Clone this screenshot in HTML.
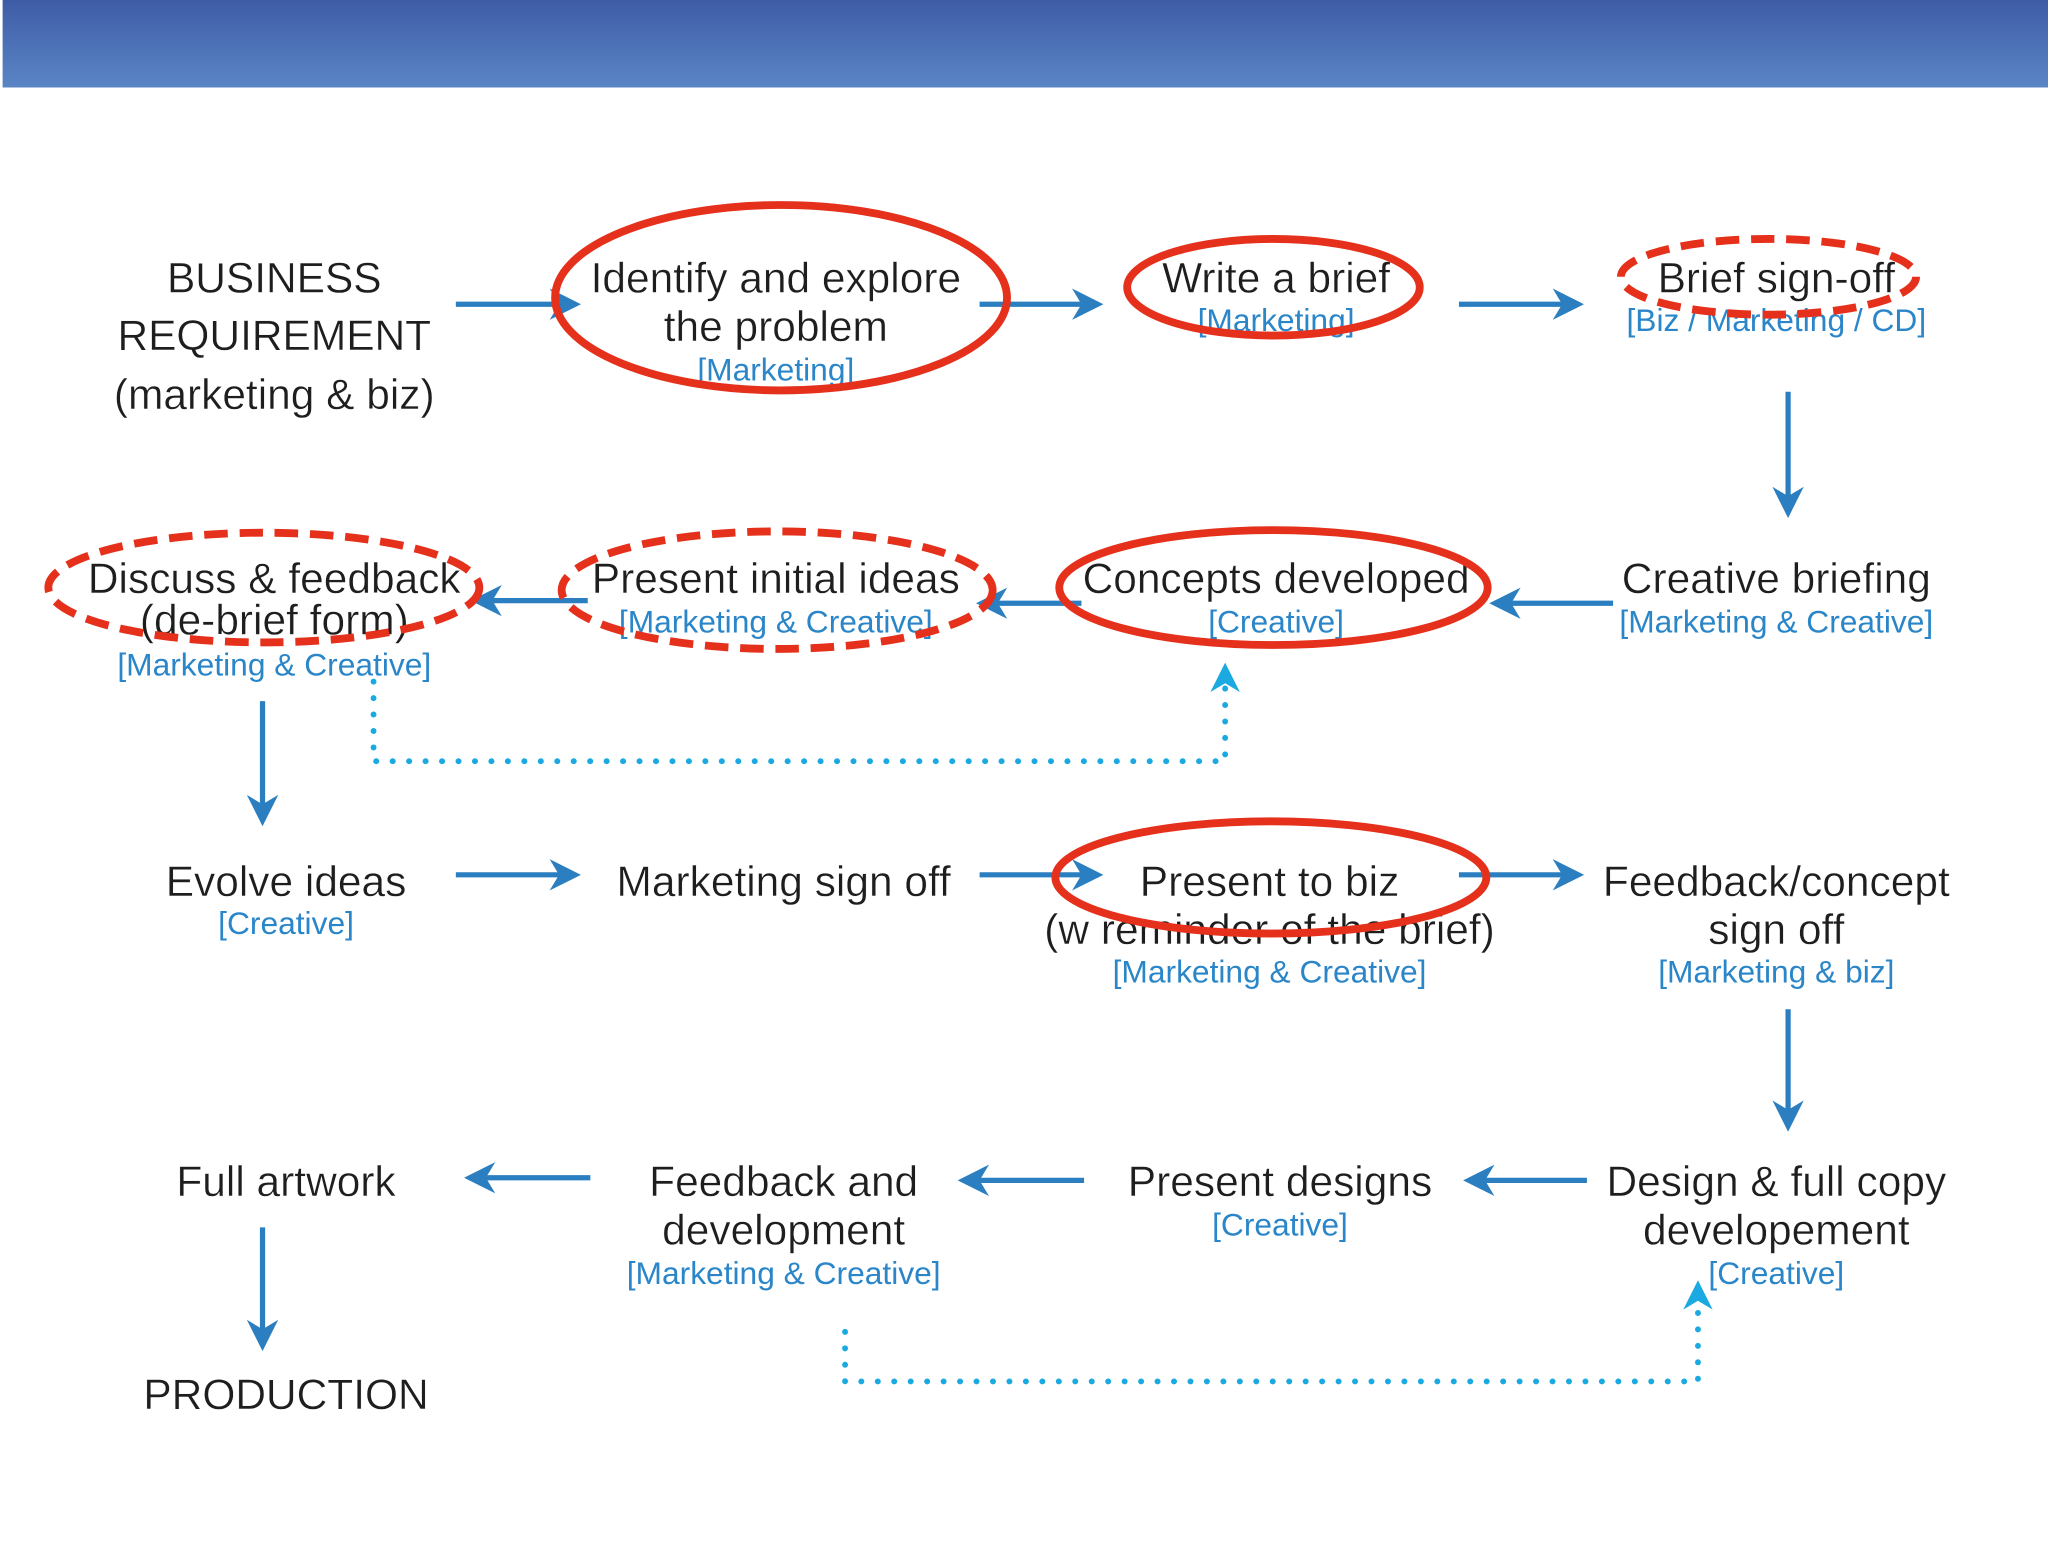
<!DOCTYPE html>
<html><head><meta charset="utf-8"><style>
html,body{margin:0;padding:0;background:#fff;}
svg{display:block;}
text{font-family:"Liberation Sans",sans-serif;dominant-baseline:central;text-anchor:middle;}
.m{font-size:32.5px;fill:#1e1e1e;stroke:#fff;stroke-width:0.3px;}
.b{font-size:24.3px;fill:#2a86c8;}
</style></head><body>
<svg width="2048" height="1559" viewBox="0 0 1568 1194" preserveAspectRatio="none" xmlns="http://www.w3.org/2000/svg">
<defs>
<linearGradient id="g" x1="0" y1="0" x2="0" y2="1"><stop offset="0" stop-color="#3e5ca6"/><stop offset="1" stop-color="#5a85c5"/></linearGradient>
<marker id="a" viewBox="0 0 10 10" refX="8" refY="5" markerWidth="6" markerHeight="6" orient="auto-start-reverse" markerUnits="strokeWidth"><path d="M0,0 L10,5 L0,10 L3,5 z" fill="#2b7fc0"/></marker>
<marker id="c" viewBox="0 0 10 10" refX="8" refY="5" markerWidth="5" markerHeight="5" orient="auto" markerUnits="strokeWidth"><path d="M0,0 L10,5 L0,10 L3,5 z" fill="#1aa9e0"/></marker>
</defs>
<rect x="2" y="0" width="1566" height="67" fill="url(#g)"/>
<g stroke="#2b7fc0" stroke-width="4" marker-end="url(#a)" fill="none">
<line x1="349" y1="233" x2="440" y2="233"/><line x1="750" y1="233" x2="840" y2="233"/><line x1="1117" y1="233" x2="1208" y2="233"/>
<line x1="1369" y1="300" x2="1369" y2="392"/>
<line x1="1235" y1="462" x2="1145" y2="462"/><line x1="828" y1="462" x2="752" y2="462"/><line x1="450" y1="460" x2="365" y2="460"/>
<line x1="201" y1="537" x2="201" y2="628"/>
<line x1="349" y1="670" x2="440" y2="670"/><line x1="750" y1="670" x2="840" y2="670"/><line x1="1117" y1="670" x2="1208" y2="670"/>
<line x1="1369" y1="773" x2="1369" y2="862"/>
<line x1="1215" y1="904" x2="1125" y2="904"/><line x1="830" y1="904" x2="738" y2="904"/><line x1="452" y1="902" x2="360" y2="902"/>
<line x1="201" y1="940" x2="201" y2="1030"/>
</g>
<g stroke="#1aa9e0" stroke-width="4.5" stroke-dasharray="0.1 12.5" stroke-linecap="round" fill="none">
<polyline points="286,522 286,583 938,583 938,512" marker-end="url(#c)"/>
<polyline points="647,1020 647,1058 1300,1058 1300,985" marker-end="url(#c)"/>
</g>
<text class="m" x="210" y="213">BUSINESS</text><text class="m" x="210" y="257">REQUIREMENT</text><text class="m" x="210" y="302">(marketing &amp; biz)</text>
<text class="m" x="594" y="213">Identify and explore</text><text class="m" x="594" y="250">the problem</text><text class="b" x="594" y="283">[Marketing]</text>
<text class="m" x="977" y="213">Write a brief</text><text class="b" x="977" y="245">[Marketing]</text>
<text class="m" x="1360" y="213">Brief sign-off</text><text class="b" x="1360" y="245">[Biz / Marketing / CD]</text>
<text class="m" x="1360" y="443">Creative briefing</text><text class="b" x="1360" y="476">[Marketing &amp; Creative]</text>
<text class="m" x="977" y="443">Concepts developed</text><text class="b" x="977" y="476">[Creative]</text>
<text class="m" x="594" y="443">Present initial ideas</text><text class="b" x="594" y="476">[Marketing &amp; Creative]</text>
<text class="m" x="210" y="443">Discuss &amp; feedback</text><text class="m" x="210" y="475">(de-brief form)</text><text class="b" x="210" y="509">[Marketing &amp; Creative]</text>
<text class="m" x="219" y="675">Evolve ideas</text><text class="b" x="219" y="707">[Creative]</text>
<text class="m" x="600" y="675">Marketing sign off</text>
<text class="m" x="972" y="675">Present to biz</text><text class="m" x="972" y="712">(w reminder of the brief)</text><text class="b" x="972" y="744">[Marketing &amp; Creative]</text>
<text class="m" x="1360" y="675">Feedback/concept</text><text class="m" x="1360" y="712">sign off</text><text class="b" x="1360" y="744">[Marketing &amp; biz]</text>
<text class="m" x="1360" y="905">Design &amp; full copy</text><text class="m" x="1360" y="942">developement</text><text class="b" x="1360" y="975">[Creative]</text>
<text class="m" x="980" y="905">Present designs</text><text class="b" x="980" y="938">[Creative]</text>
<text class="m" x="600" y="905">Feedback and</text><text class="m" x="600" y="942">development</text><text class="b" x="600" y="975">[Marketing &amp; Creative]</text>
<text class="m" x="219" y="905">Full artwork</text>
<text class="m" x="219" y="1068">PRODUCTION</text>
<g fill="none" stroke="#e5301c" stroke-width="6">
<ellipse cx="598" cy="228" rx="173" ry="71"/>
<ellipse cx="975" cy="220" rx="112" ry="37"/>
<ellipse cx="975" cy="450" rx="164" ry="44"/>
<ellipse cx="973" cy="672" rx="165" ry="43"/>
<g stroke-dasharray="18 9">
<ellipse cx="1354" cy="212" rx="113" ry="29"/>
<ellipse cx="595" cy="452" rx="165" ry="45"/>
<ellipse cx="202" cy="450" rx="165" ry="42"/>
</g>
</g>
</svg>
</body></html>
